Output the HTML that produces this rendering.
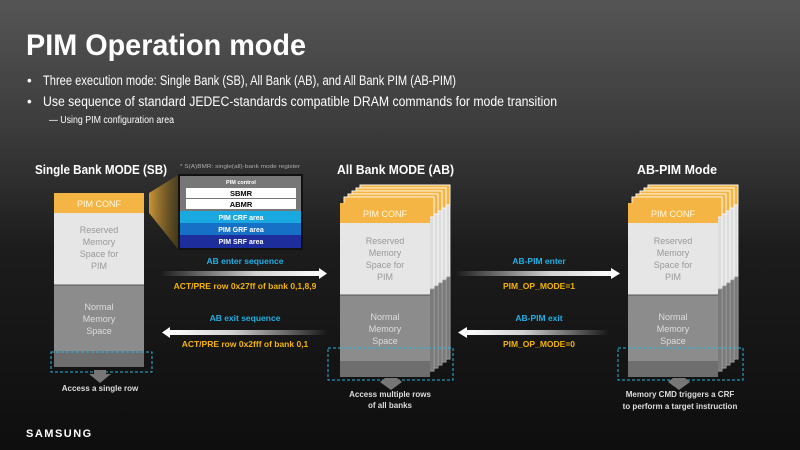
<!DOCTYPE html>
<html><head><meta charset="utf-8"><style>
html,body{margin:0;padding:0;background:#111}
svg{display:block}
text{font-family:"Liberation Sans",sans-serif}
.n{font-family:"Liberation Sans Narrow","Liberation Sans",sans-serif}
</style></head><body>
<svg width="800" height="450" viewBox="0 0 800 450" xmlns="http://www.w3.org/2000/svg">
<defs>
<linearGradient id="bg" x1="0" y1="0" x2="0" y2="1">
<stop offset="0" stop-color="#555"/><stop offset="0.3" stop-color="#3a3a3a"/><stop offset="0.55" stop-color="#1c1c1c"/><stop offset="1" stop-color="#0e0e0e"/></linearGradient>
<linearGradient id="ar" x1="0" x2="1"><stop offset="0" stop-color="#fff" stop-opacity="0"/><stop offset="0.6" stop-color="#fff" stop-opacity="0.8"/><stop offset="1" stop-color="#fff"/></linearGradient>
<linearGradient id="al" x1="1" x2="0"><stop offset="0" stop-color="#fff" stop-opacity="0"/><stop offset="0.6" stop-color="#fff" stop-opacity="0.8"/><stop offset="1" stop-color="#fff"/></linearGradient>
<linearGradient id="tr" x1="0" x2="1"><stop offset="0" stop-color="#f3b23a"/><stop offset="1" stop-color="#6a5318" stop-opacity="0.6"/></linearGradient>
<g id="card">
<rect x="0" y="0" width="90" height="20" fill="#f5b545"/>
<rect x="0" y="20" width="90" height="72" fill="#e6e6e6"/>
<rect x="0" y="92" width="90" height="66" fill="#8c8c8c"/>
<rect x="0" y="158" width="90" height="16" fill="#6e6e6e"/>
<line x1="0" y1="92" x2="90" y2="92" stroke="#555" stroke-width="1"/>
</g>
<g id="bcard">
<rect x="0" y="0" width="90" height="174" fill="#ddd" stroke="#fff" stroke-width="0.8"/>
<rect x="0" y="0" width="90" height="20" fill="#f5b545" stroke="#fff" stroke-width="0.8"/>
<rect x="0" y="92" width="90" height="82" fill="#7a7a7a" stroke="#999" stroke-width="0.8"/>
</g>
</defs>
<rect width="800" height="450" fill="url(#bg)"/>

<text x="26" y="55" font-size="30" font-weight="bold" fill="#fff" textLength="280" lengthAdjust="spacingAndGlyphs">PIM Operation mode</text>
<g class="n" fill="#fff" font-size="13.5">
<text x="27" y="85" class="n">•</text><text x="43" y="85" class="n" textLength="413" lengthAdjust="spacingAndGlyphs">Three execution mode: Single Bank (SB), All Bank (AB), and All Bank PIM (AB-PIM)</text>
<text x="27" y="106" class="n">•</text><text x="43" y="106" class="n" textLength="514" lengthAdjust="spacingAndGlyphs">Use sequence of standard JEDEC-standards compatible DRAM commands for mode transition</text>
<text x="49" y="123" class="n" font-size="10" textLength="125" lengthAdjust="spacingAndGlyphs">— Using PIM configuration area</text>
</g>

<!-- headings -->
<g fill="#fff" font-weight="bold" font-size="13">
<text x="35" y="174" textLength="132" lengthAdjust="spacingAndGlyphs">Single Bank MODE (SB)</text>
<text x="337" y="174" textLength="117" lengthAdjust="spacingAndGlyphs">All Bank MODE (AB)</text>
<text x="637" y="174" textLength="80" lengthAdjust="spacingAndGlyphs">AB-PIM Mode</text>
</g>
<text x="180" y="168" font-size="5.5" fill="#aaa" textLength="120" lengthAdjust="spacingAndGlyphs">* S(A)BMR: single(all)-bank mode register</text>

<!-- SB trapezoid -->
<polygon points="149,193 178,175 178,249 149,213" fill="url(#tr)" opacity="0.8"/>
<!-- SB stack -->
<g transform="translate(54,193)"><use href="#card"/></g>
<g class="n" font-size="9" fill="#bbb" text-anchor="middle">
<text x="99" y="207" fill="#fff8e0">PIM CONF</text>
<text x="99" y="233" fill="#999">Reserved</text><text x="99" y="245" fill="#999">Memory</text><text x="99" y="257" fill="#999">Space for</text><text x="99" y="269" fill="#999">PIM</text>
<text x="99" y="310" fill="#ddd">Normal</text><text x="99" y="322" fill="#ddd">Memory</text><text x="99" y="334" fill="#ddd">Space</text>
</g>
<rect x="51" y="352" width="101" height="20" fill="none" stroke="#2ab4dc" stroke-dasharray="3,2" stroke-width="1"/>
<polygon points="94,370 106,370 106,374 111,374 100,383 89,374 94,374" fill="#777"/>
<text x="100" y="391" font-size="8" font-weight="bold" fill="#ddd" text-anchor="middle">Access a single row</text>

<!-- inset -->
<rect x="178" y="174" width="125" height="76" fill="#111"/>
<rect x="180" y="176" width="121" height="72" fill="#777"/>
<text x="241" y="184" font-size="5.5" font-weight="bold" fill="#fff" text-anchor="middle">PIM control</text>
<rect x="186" y="188" width="110" height="10" fill="#fff"/>
<rect x="186" y="199" width="110" height="10" fill="#fff"/>
<text x="241" y="196" font-size="7.5" font-weight="bold" fill="#000" text-anchor="middle">SBMR</text>
<text x="241" y="207" font-size="7.5" font-weight="bold" fill="#000" text-anchor="middle">ABMR</text>
<rect x="180" y="211" width="121" height="12" fill="#1aa8e0"/>
<rect x="180" y="223" width="121" height="12" fill="#1671c6"/>
<rect x="180" y="235" width="121" height="13" fill="#1d2e9c"/>
<g font-size="7" font-weight="bold" fill="#fff" text-anchor="middle">
<text x="241" y="220">PIM CRF area</text><text x="241" y="232">PIM GRF area</text><text x="241" y="244">PIM SRF area</text>
</g>

<!-- AB stack -->
<g transform="translate(360,185)"><use href="#bcard"/></g>
<g transform="translate(356,188)"><use href="#bcard"/></g>
<g transform="translate(352,191)"><use href="#bcard"/></g>
<g transform="translate(348,194)"><use href="#bcard"/></g>
<g transform="translate(344,197)"><use href="#bcard"/></g>
<g transform="translate(340,203)"><use href="#card"/></g>
<g class="n" font-size="9" text-anchor="middle">
<text x="385" y="217" fill="#fff8e0">PIM CONF</text>
<text x="385" y="244" fill="#999">Reserved</text><text x="385" y="256" fill="#999">Memory</text><text x="385" y="268" fill="#999">Space for</text><text x="385" y="280" fill="#999">PIM</text>
<text x="385" y="320" fill="#ddd">Normal</text><text x="385" y="332" fill="#ddd">Memory</text><text x="385" y="344" fill="#ddd">Space</text>
</g>
<rect x="328" y="348" width="125" height="32" fill="none" stroke="#2ab4dc" stroke-dasharray="3,2"/>
<polygon points="385,378 397,378 402,382 391,390 380,382" fill="#777"/>
<text x="390" y="397" font-size="8" font-weight="bold" fill="#ddd" text-anchor="middle">Access multiple rows</text>
<text x="390" y="408" font-size="8" font-weight="bold" fill="#ddd" text-anchor="middle">of all banks</text>

<!-- PIM stack -->
<g transform="translate(648,185)"><use href="#bcard"/></g>
<g transform="translate(644,188)"><use href="#bcard"/></g>
<g transform="translate(640,191)"><use href="#bcard"/></g>
<g transform="translate(636,194)"><use href="#bcard"/></g>
<g transform="translate(632,197)"><use href="#bcard"/></g>
<g transform="translate(628,203)"><use href="#card"/></g>
<g class="n" font-size="9" text-anchor="middle">
<text x="673" y="217" fill="#fff8e0">PIM CONF</text>
<text x="673" y="244" fill="#999">Reserved</text><text x="673" y="256" fill="#999">Memory</text><text x="673" y="268" fill="#999">Space for</text><text x="673" y="280" fill="#999">PIM</text>
<text x="673" y="320" fill="#ddd">Normal</text><text x="673" y="332" fill="#ddd">Memory</text><text x="673" y="344" fill="#ddd">Space</text>
</g>
<rect x="618" y="348" width="125" height="32" fill="none" stroke="#2ab4dc" stroke-dasharray="3,2"/>
<polygon points="673,378 685,378 690,382 679,390 668,382" fill="#777"/>
<text x="680" y="397" font-size="8" font-weight="bold" fill="#ddd" text-anchor="middle">Memory CMD triggers a CRF</text>
<text x="680" y="409" font-size="8" font-weight="bold" fill="#ddd" text-anchor="middle">to perform a target instruction</text>

<!-- arrows -->
<rect x="160" y="271" width="160" height="5" fill="url(#ar)"/>
<polygon points="319,268 327,273.5 319,279" fill="#fff"/>
<rect x="170" y="330" width="158" height="5" fill="url(#al)"/>
<polygon points="170,327 162,332.5 170,338" fill="#fff"/>
<rect x="455" y="271" width="157" height="5" fill="url(#ar)"/>
<polygon points="611,268 620,273.5 611,279" fill="#fff"/>
<rect x="467" y="330" width="142" height="5" fill="url(#al)"/>
<polygon points="467,327 458,332.5 467,338" fill="#fff"/>

<g font-size="8.5" font-weight="bold" text-anchor="middle">
<text x="245" y="264" fill="#1fb0e6">AB enter sequence</text>
<text x="245" y="289" fill="#f5b400">ACT/PRE row 0x27ff of bank 0,1,8,9</text>
<text x="245" y="321" fill="#1fb0e6">AB exit sequence</text>
<text x="245" y="347" fill="#f5b400">ACT/PRE row 0x2fff of bank 0,1</text>
<text x="539" y="264" fill="#1fb0e6">AB-PIM enter</text>
<text x="539" y="289" fill="#f5b400">PIM_OP_MODE=1</text>
<text x="539" y="321" fill="#1fb0e6">AB-PIM exit</text>
<text x="539" y="347" fill="#f5b400">PIM_OP_MODE=0</text>
</g>

<text x="26" y="437" font-size="11" font-weight="bold" fill="#fff" letter-spacing="1.5">SAMSUNG</text>
</svg>
</body></html>
